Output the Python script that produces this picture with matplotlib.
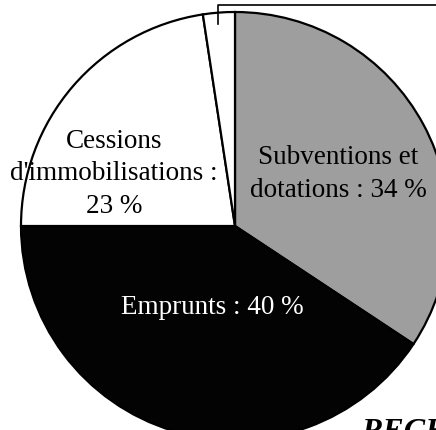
import matplotlib.pyplot as plt

# parts des recettes d'investissement (%)
labels = ["Subventions et\ndotations : 34 %", "Emprunts : 40 %",
          "Cessions\nd'immobilisations :\n23 %", ""]
values = [34.3, 40.7, 22.6, 2.4]
colors = ["#9e9e9e", "#030303", "#ffffff", "#ffffff"]
text_colors = ["black", "white", "black", "black"]

W, H = 436, 430
my_dpi = 100

fig = plt.figure(figsize=(W/my_dpi, H/my_dpi), dpi=my_dpi)
ax = fig.add_axes([0, 0, 1, 1])

cx, cy, r = 235, H-226, 214
wedges, _ = ax.pie(values, colors=colors, startangle=90, counterclock=False,
                   center=(cx, cy), radius=r,
                   wedgeprops=dict(edgecolor="black", linewidth=1.6))

# libelles places a la main dans les parts
label_pos = [(338, 174), (212, 308), (114, 174)]
for lab, (x, y), c in zip(labels[:3], label_pos, text_colors):
    ax.text(x, H-y, lab, ha="center", va="center", color=c,
            fontsize=19.5, family="Liberation Serif", linespacing=1.38)

# trait de rappel vers la petite part
ax.plot([218, 218, 436], [H-24, H-5, H-5], color="black", lw=1.2, clip_on=False)
ax.text(436, H+2, "Etat : 3 %", ha="right", va="bottom", fontsize=19.5,
        family="Liberation Serif")

ax.text(361, H-447, "RECETTES", ha="left", va="bottom", fontsize=23,
        family="Liberation Serif", fontweight="bold", fontstyle="italic")

ax.set_xlim(0, W)
ax.set_ylim(0, H)
ax.set_aspect("auto")
ax.axis("off")

plt.savefig("out.png", dpi=my_dpi)
